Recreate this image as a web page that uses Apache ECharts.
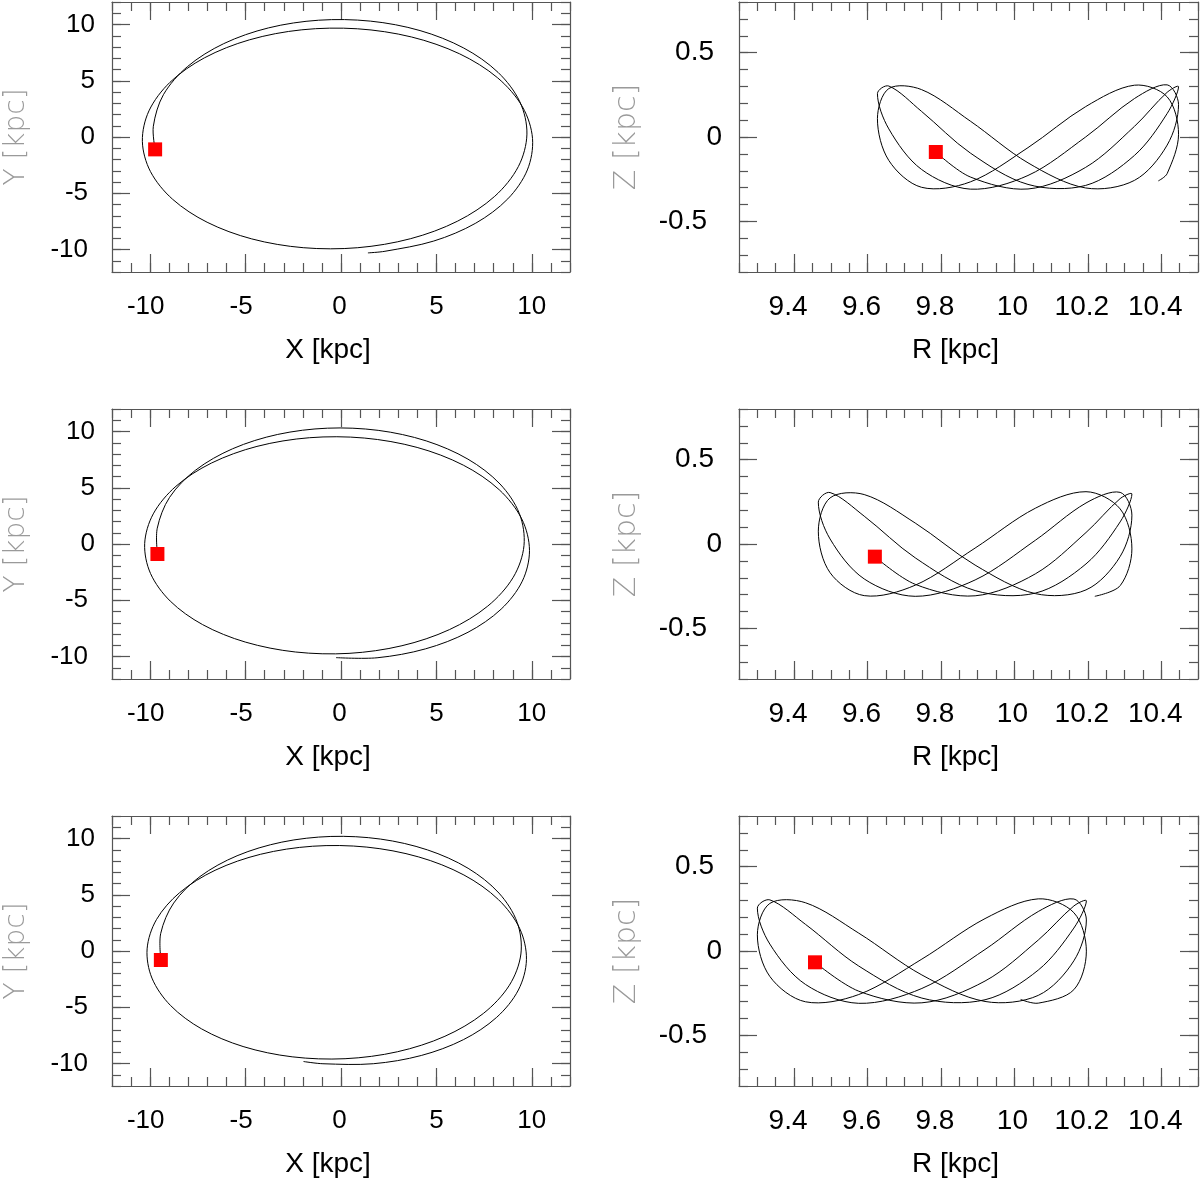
<!DOCTYPE html>
<html>
<head>
<meta charset="utf-8">
<script src="https://cdn.jsdelivr.net/npm/echarts@6.0.0/dist/echarts.min.js"></script>
<style>
html,body{margin:0;padding:0;background:#fff;}
#chart{width:1200px;height:1186px;}
</style>
</head>
<body>
<div id="chart"></div>
<script>
// ---------- tick values ----------
const xyMajorTicks = [-10, -5, 0, 5, 10];
const xyMinorTicks = [-12,-11,-10,-9,-8,-7,-6,-5,-4,-3,-2,-1,0,1,2,3,4,5,6,7,8,9,10,11,12];
const rMajorTicks = [9.4, 9.6, 9.8, 10, 10.2, 10.4];
const rMinorTicks = [9.25,9.3,9.35,9.4,9.45,9.5,9.55,9.6,9.65,9.7,9.75,9.8,9.85,9.9,9.95,10,10.05,10.1,10.15,10.2,10.25,10.3,10.35,10.4,10.45,10.5];
const zMajorTicks = [-0.5, 0, 0.5];
const zMinorTicks = [-0.8,-0.7,-0.6,-0.5,-0.4,-0.3,-0.2,-0.1,0,0.1,0.2,0.3,0.4,0.5,0.6,0.7,0.8];

// ---------- start positions (red squares) ----------
const xyStart1 = [-9.74, -1.10];
const xyStart2 = [-9.62, -0.89];
const xyStart3 = [-9.44, -0.80];
const rzStart1 = [9.786, -0.089];
const rzStart2 = [9.620, -0.075];
const rzStart3 = [9.457, -0.067];

// ---------- orbit in X-Y (kpc), row 1 ----------
const xyPath1 = [
[-9.74,-1.10],[-9.834,0.955],[-9.305,3.762],[-8.035,6.273],[-6.149,8.297],[-3.801,9.698],
[-1.173,10.381],[1.540,10.301],[4.141,9.461],[6.433,7.908],[8.230,5.744],[9.372,3.127],
[9.743,0.258],[9.295,-2.623],[8.053,-5.276],[6.117,-7.473],[3.654,-9.036],[0.877,-9.841],
[-1.979,-9.840],[-4.680,-9.056],[-7.016,-7.577],[-8.830,-5.526],[-9.985,-3.070],[-10.409,-0.389],
[-10.063,2.324],[-8.960,4.863],[-7.163,7.031],[-4.804,8.634],[-2.053,9.529],[0.862,9.619],
[3.698,8.889],[6.217,7.391],[8.207,5.260],[9.510,2.679],[10.036,-0.128],[9.765,-2.928],
[8.741,-5.499],[7.062,-7.657],[4.861,-9.248],[2.304,-10.158],[1.41,-10.30]
];
// ---------- orbit in X-Y (kpc), row 2 ----------
const xyPath2 = [
[-9.62,-0.89],[-9.629,1.399],[-8.985,4.140],[-7.625,6.557],[-5.682,8.465],[-3.317,9.739],
[-0.711,10.295],[1.949,10.102],[4.467,9.164],[6.654,7.541],[8.332,5.334],[9.346,2.708],
[9.590,-0.134],[9.026,-2.957],[7.689,-5.522],[5.686,-7.608],[3.194,-9.043],[0.421,-9.721],
[-2.392,-9.599],[-5.016,-8.716],[-7.253,-7.165],[-8.948,-5.075],[-9.982,-2.619],[-10.288,0.031],
[-9.837,2.680],[-8.649,5.133],[-6.798,7.188],[-4.404,8.676],[-1.657,9.447],[1.220,9.419],
[3.990,8.584],[6.413,7.006],[8.290,4.824],[9.472,2.227],[9.877,-0.559],[9.500,-3.303],
[8.392,-5.790],[6.655,-7.846],[4.436,-9.318],[1.891,-10.113],[-0.26,-10.10]
];
// ---------- orbit in X-Y (kpc), row 3 ----------
const xyPath3 = [
[-9.44,-0.80],[-9.447,1.568],[-8.768,4.260],[-7.388,6.620],[-5.447,8.464],[-3.101,9.677],
[-0.532,10.182],[2.075,9.948],[4.534,8.986],[6.660,7.352],[8.276,5.151],[9.232,2.544],
[9.427,-0.265],[8.824,-3.042],[7.460,-5.552],[5.446,-7.580],[2.958,-8.956],[0.213,-9.574],
[-2.559,-9.406],[-5.131,-8.491],[-7.305,-6.924],[-8.934,-4.843],[-9.906,-2.411],[-10.160,0.193],
[-9.671,2.789],[-8.460,5.181],[-6.599,7.175],[-4.213,8.599],[-1.488,9.313],[1.354,9.235],
[4.072,8.361],[6.439,6.758],[8.251,4.567],[9.368,1.984],[9.718,-0.770],[9.294,-3.468],
[8.157,-5.896],[6.415,-7.881],[4.208,-9.287],[1.693,-10.020],[-0.947,-10.021],[-1.962,-9.823]
];

// ---------- orbit in R-Z (kpc), row 1 ----------
const rzPath1 = [
[9.786,-0.089],[9.880,-0.237],[10.037,-0.308],[10.194,-0.180],[10.327,0.063],[10.416,0.265],
[10.447,0.298],[10.416,0.139],[10.327,-0.109],[10.194,-0.287],[10.037,-0.281],[9.880,-0.095],
[9.747,0.152],[9.658,0.302],[9.627,0.257],[9.658,0.048],[9.747,-0.192],[9.880,-0.309],
[10.037,-0.228],[10.194,0.000],[10.327,0.228],[10.416,0.309],[10.447,0.192],[10.416,-0.048],
[10.327,-0.257],[10.194,-0.302],[10.037,-0.153],[9.880,0.094],[9.747,0.281],[9.658,0.287],
[9.627,0.109],[9.658,-0.139],[9.747,-0.298],[9.880,-0.266],[10.037,-0.063],[10.194,0.180],
[10.327,0.307],[10.416,0.238],[10.447,0.016],[10.416,-0.217],[10.392,-0.260]
];
// ---------- orbit in R-Z (kpc), row 2 ----------
const rzPath2 = [
[9.620,-0.075],[9.730,-0.239],[9.893,-0.307],[10.057,-0.177],[10.195,0.068],[10.288,0.269],
[10.320,0.296],[10.288,0.131],[10.195,-0.118],[10.057,-0.291],[9.893,-0.276],[9.730,-0.082],
[9.591,0.165],[9.498,0.305],[9.466,0.248],[9.498,0.030],[9.591,-0.207],[9.730,-0.310],
[9.893,-0.213],[10.057,0.022],[10.195,0.243],[10.288,0.306],[10.320,0.171],[10.288,-0.074],
[10.195,-0.272],[10.057,-0.294],[9.893,-0.125],[9.730,0.124],[9.591,0.293],[9.498,0.273],
[9.466,0.076],[9.498,-0.170],[9.591,-0.306],[9.730,-0.244],[9.893,-0.024],[10.057,0.212],
[10.195,0.310],[10.288,0.208],[10.320,-0.029],[10.288,-0.247],[10.219,-0.310]
];
// ---------- orbit in R-Z (kpc), row 3 ----------
const rzPath3 = [
[9.457,-0.067],[9.576,-0.238],[9.748,-0.307],[9.920,-0.178],[10.065,0.065],[10.162,0.267],
[10.196,0.297],[10.162,0.136],[10.065,-0.113],[9.920,-0.289],[9.748,-0.279],[9.576,-0.089],
[9.431,0.158],[9.334,0.303],[9.300,0.254],[9.334,0.041],[9.431,-0.198],[9.576,-0.310],
[9.748,-0.222],[9.920,0.009],[10.065,0.234],[10.162,0.308],[10.196,0.184],[10.162,-0.058],
[10.065,-0.263],[9.920,-0.299],[9.748,-0.142],[9.576,0.106],[9.431,0.286],[9.334,0.282],
[9.300,0.096],[9.334,-0.151],[9.431,-0.301],[9.576,-0.258],[9.748,-0.048],[9.920,0.192],
[10.065,0.309],[10.162,0.227],[10.196,-0.001],[10.162,-0.229],[10.065,-0.309],[10.017,-0.287]
];

// ---------- layout / style ----------
const FRAME = '#555555';
const LABEL_FONT = "'Liberation Sans', Arial, Helvetica, sans-serif";
const THIN_FONT = "'DejaVu Sans ExtraLight', 'DejaVu Sans Light', 'DejaVu Sans', sans-serif";
const rowTops = [2, 409, 816];
const PANEL_H = 270;
const colLeft = [112, 739];
const colWidth = [458, 459];

const panels = [
  {row:0, col:0, path:xyPath1, start:xyStart1},
  {row:0, col:1, path:rzPath1, start:rzStart1},
  {row:1, col:0, path:xyPath2, start:xyStart2},
  {row:1, col:1, path:rzPath2, start:rzStart2},
  {row:2, col:0, path:xyPath3, start:xyStart3},
  {row:2, col:1, path:rzPath3, start:rzStart3}
];

const grid = [], xAxis = [], yAxis = [], series = [];

function richSet(fontSize, pads) {
  const r = {};
  pads.forEach(p => {
    r['p' + p] = {fontSize: fontSize, fontFamily: LABEL_FONT, color: '#000', padding: [0, p, 0, 0]};
  });
  return r;
}

function tickAxes(base, majors, minors, posMain, posMirror, labelOpt, nameOpt) {
  const tickStyle = {color: FRAME, width: 1.2};
  return [
    Object.assign({}, base, {
      position: posMain,
      axisLine: {show: true, onZero: false, lineStyle: {color: FRAME, width: 1.2}},
      axisTick: {show: true, inside: true, length: 18, customValues: majors, lineStyle: tickStyle},
      axisLabel: Object.assign({show: true, customValues: majors}, labelOpt),
      splitLine: {show: false}
    }, nameOpt),
    Object.assign({}, base, {
      position: posMain,
      axisLine: {show: false, onZero: false},
      axisTick: {show: true, inside: true, length: 9, customValues: minors, lineStyle: tickStyle},
      axisLabel: {show: false},
      splitLine: {show: false}
    }),
    Object.assign({}, base, {
      position: posMirror,
      axisLine: {show: true, onZero: false, lineStyle: {color: FRAME, width: 1.2}},
      axisTick: {show: true, inside: true, length: 18, customValues: majors, lineStyle: tickStyle},
      axisLabel: {show: false},
      splitLine: {show: false}
    }),
    Object.assign({}, base, {
      position: posMirror,
      axisLine: {show: false, onZero: false},
      axisTick: {show: true, inside: true, length: 9, customValues: minors, lineStyle: tickStyle},
      axisLabel: {show: false},
      splitLine: {show: false}
    })
  ];
}

function orbitSeries(points, xIdx, yIdx) {
  return {
    type: 'custom', coordinateSystem: 'cartesian2d',
    xAxisIndex: xIdx, yAxisIndex: yIdx,
    data: points, encode: {x: 0, y: 1}, silent: true, z: 2,
    renderItem: function (params, api) {
      if (params.dataIndex !== 0) return null;
      const pts = points.map(p => api.coord(p));
      return {
        type: 'polyline',
        shape: {points: pts, smooth: 0.33},
        style: {stroke: '#000', lineWidth: 1, fill: null}
      };
    }
  };
}

// label offsets as seen in the reference
const xLabelFmt = v => '{' + (v < 0 ? 'p9' : (v === 0 ? 'p3' : 'p0')) + '|' + v + '}';
const rLabelFmt = v => '{' + (v === 10 ? 'p4' : 'p12') + '|' + v + '}';
const yLabelFmt = v => '{' + (v < 0 ? 'p7' : 'p0') + '|' + v + '}';
const zLabelFmt = v => '{' + (v === 0 ? 'p0' : (v > 0 ? 'p8' : 'p15')) + '|' + v + '}';

panels.forEach((p, gi) => {
  grid.push({left: colLeft[p.col], top: rowTops[p.row], width: colWidth[p.col], height: PANEL_H, containLabel: false});
  const isXY = p.col === 0;
  const xRange = isXY ? [-12, 12] : [9.25, 10.5];
  const yRange = isXY ? [-12, 12] : [-0.8, 0.8];
  const fs = isXY ? 26 : 28;

  const xBase = {type: 'value', gridIndex: gi, min: xRange[0], max: xRange[1], scale: true};
  const yBase = {type: 'value', gridIndex: gi, min: yRange[0], max: yRange[1], scale: true};

  const xLabel = {
    margin: isXY ? 22 : 21, fontSize: fs, fontFamily: LABEL_FONT, color: '#000',
    formatter: isXY ? xLabelFmt : rLabelFmt,
    rich: isXY ? richSet(fs, [0, 3, 9]) : richSet(fs, [4, 12])
  };
  const yLabel = {
    margin: 17, fontSize: fs, fontFamily: LABEL_FONT, color: '#000',
    formatter: isXY ? yLabelFmt : zLabelFmt,
    rich: isXY ? richSet(fs, [0, 7]) : richSet(fs, [0, 8, 15])
  };

  const xName = {
    name: isXY ? 'X [kpc]' : 'R [kpc]', nameLocation: 'middle', nameGap: 64,
    nameTextStyle: {fontSize: 28, color: '#000', fontFamily: LABEL_FONT, padding: [0, 26, 0, 0]}
  };
  const yName = {
    name: isXY ? 'Y [kpc]' : 'Z [kpc]', nameLocation: 'middle', nameGap: isXY ? 81 : 97,
    nameTextStyle: {fontSize: isXY ? 28 : 30, color: '#9a9a9a', fontFamily: THIN_FONT, fontWeight: 200}
  };

  const xIdx = xAxis.length;
  tickAxes(xBase, isXY ? xyMajorTicks : rMajorTicks, isXY ? xyMinorTicks : rMinorTicks,
           'bottom', 'top', xLabel, xName).forEach(a => xAxis.push(a));
  const yIdx = yAxis.length;
  tickAxes(yBase, isXY ? xyMajorTicks : zMajorTicks, isXY ? xyMinorTicks : zMinorTicks,
           'left', 'right', yLabel, yName).forEach(a => yAxis.push(a));

  series.push(orbitSeries(p.path, xIdx, yIdx));
  series.push({
    type: 'scatter', xAxisIndex: xIdx, yAxisIndex: yIdx, data: [p.start],
    symbol: 'rect', symbolSize: 14, silent: true,
    itemStyle: {color: '#ff0000', opacity: 1}, z: 3
  });
});

const chart = echarts.init(document.getElementById('chart'), null, {renderer: 'canvas'});
chart.setOption({
  animation: false,
  backgroundColor: '#ffffff',
  grid: grid,
  xAxis: xAxis,
  yAxis: yAxis,
  series: series
});
</script>
</body>
</html>
